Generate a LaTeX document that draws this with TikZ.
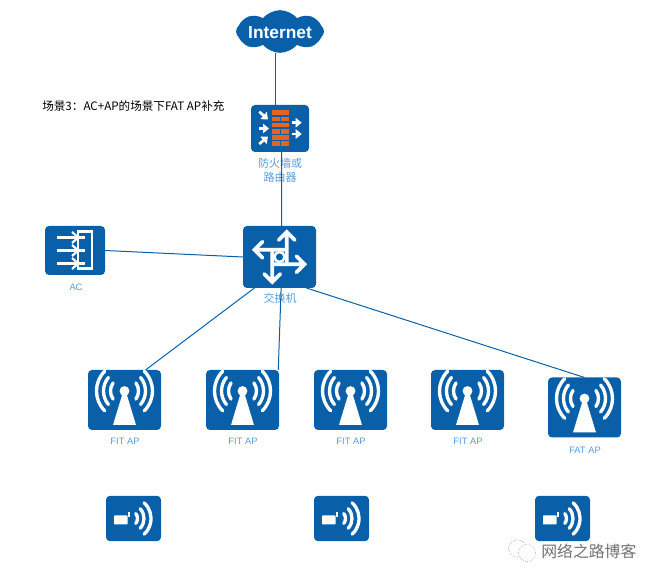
\documentclass[tikz,border=0pt]{standalone}
\usepackage{fontspec}
\setmainfont{Liberation Sans}
\newfontfamily\cjk{Noto Sans CJK SC}
\usetikzlibrary{shapes.symbols,arrows.meta}
\definecolor{boxblue}{HTML}{0A60A8}
\definecolor{labblue}{HTML}{5B9BD5}
\definecolor{brick}{HTML}{E8641E}
\tikzset{
  devbox/.style={fill=boxblue,rounded corners=3pt,inner sep=0pt,outer sep=0pt},
  apbox/.style={devbox,minimum width=54.75pt,minimum height=45pt},
  stabox/.style={devbox,minimum width=41.25pt,minimum height=34pt},
  lab/.style={text=labblue,font=\fontsize{7}{8}\selectfont,inner sep=0pt},
  cjklab/.style={text=labblue,font=\fontsize{8.25}{10.5}\selectfont\cjk,inner sep=0pt,align=center},
  link/.style={draw=boxblue,line width=.75pt},
  iconline/.style={draw=white,line width=2.5pt,line cap=round},
  thinline/.style={draw=white,line width=1.6pt},
  icon/.style={x=.75pt,y=.75pt,shift={(#1)}}
}
\newcommand{\drawap}[1]{
\begin{scope}[icon=#1]
\fill[white] (0,9) circle (4.9);
\fill[white] (-1.5,8) -- (-11.5,-25) -- (11.5,-25) -- (1.5,8) -- cycle;
\foreach \r/\a in {14/35,21/40,28/45}{
  \draw[iconline] (0,9) ++(\a:\r) arc[start angle=\a,end angle=-\a,radius=\r];
  \draw[iconline] (0,9) ++(180-\a:\r) arc[start angle=180-\a,end angle=180+\a,radius=\r];
}
\end{scope}}
\newcommand{\drawsta}[1]{
\begin{scope}[icon=#1]
\fill[white,rounded corners=.5pt] (-19.5,3) rectangle (-6,-6);
\draw[white,line width=.9pt] (-4.5,6) -- (-4.5,1);
\foreach \r/\a in {8/38,14.5/42,21.5/47}{
  \draw[iconline] (-4,0) ++(\a:\r) arc[start angle=\a,end angle=-\a,radius=\r];
}
\end{scope}}

\begin{document}
\begin{tikzpicture}[x=.75pt,y=-.75pt]
\useasboundingbox (0,0) rectangle (657,580);
\node[cloud,cloud puffs=8,cloud puff arc=100,aspect=2.2,fill=boxblue,
  inner sep=0pt,outer sep=0pt,minimum width=66pt,minimum height=32pt] (internet) at (280,31.5) {};
\node[text=white,inner sep=0pt,font=\fontsize{13}{13}\selectfont\bfseries] (inettxt) at (280,33) {Internet};
\node[anchor=west,inner sep=0pt,font=\fontsize{8.7}{10}\selectfont\cjk] (title) at (42,106) {场景3：AC+AP的场景下FAT AP补充};

\node[devbox,minimum width=43.5pt,minimum height=35.25pt] (fw) at (280,128.5) {};
\node[devbox,minimum width=54.75pt,minimum height=46.5pt] (sw) at (279.5,257) {};
\node[devbox,minimum width=45pt,minimum height=36.75pt] (ac) at (75,250.5) {};
\node[apbox] (fit1) at (124.5,400) {};
\node[apbox] (fit2) at (242.5,400) {};
\node[apbox] (fit3) at (350.5,400) {};
\node[apbox] (fit4) at (467.5,400) {};
\node[apbox] (fat) at (584.5,407.5) {};
\node[stabox] (sta1) at (133.5,518.5) {};
\node[stabox] (sta2) at (341.5,518.5) {};
\node[stabox] (sta3) at (562.5,518.5) {};

\node[cjklab] (fwlab) at (280,170) {防火墙或\\路由器};
\node[cjklab] (swlab) at (280,298) {交换机};
\node[lab] (aclab) at (76,287) {AC};
\node[lab] (fit1lab) at (125,441) {FIT AP};
\node[lab] (fit2lab) at (243,441) {FIT AP};
\node[lab] (fit3lab) at (351,441) {FIT AP};
\node[lab] (fit4lab) at (468,441) {FIT AP};
\node[lab] (fatlab) at (585,450) {FAT AP};

\draw[link] (fw.100.8 |- internet.south) -- (fw.100.8);
\draw[link] (fw.-86.8) -- (sw.86.3);
\draw[link] (ac.east) -- (sw.west);
\draw[link] (sw.-129.4) -- (fit1.55.6);
\draw[link] (sw.-87) -- (fit2.40.6);
\draw[link] (sw.-49.5) -- (fat.north);

% firewall
\begin{scope}[icon=fw]
\foreach \t/\b in {18.5/13.5,5.8/1.2,-6.8/-11.5}{
  \fill[brick] (-8.3,\t) rectangle (9,\b);
}
\foreach \t/\b in {11.8/7.5,-.5/-5.5,-13/-18}{
  \fill[brick] (-8.3,\t) rectangle (-.4,\b);
  \fill[brick] (1,\t) rectangle (9,\b);
}
\foreach \sx/\sy/\ex/\ey in {-20.7/16.8/-12/9,-21/0/-11/0,-20.7/-15.5/-12/-8,11.7/5.8/21.7/5.8,11.7/-5.5/21.7/-5.5}{
  \draw[white,line width=2pt,-{Triangle[length=4.5pt,width=7pt]}] (\sx,\sy) -- (\ex,\ey);
}
\end{scope}

% switch
\begin{scope}[icon=sw]
\foreach \a in {0,90,180,270}{
  \draw[iconline,line width=2.8pt,rotate=\a] (-5,-7.3) -- (25,-7.3) (17,-15.3) -- (25,-7.3) -- (17,.7);
}
\filldraw[fill=boxblue,draw=white,line width=1.8pt] (0,0) circle (5);
\end{scope}

% ac
\begin{scope}[icon=ac]
\draw[thinline] (3.3,19) rectangle (17.3,-18);
\foreach \y in {13,0,-13}{
  \draw[thinline] (-18,\y) -- (10,\y);
  \draw[thinline] (-3,\y+5.5) -- (3.3,\y) -- (-3,\y-5.5);
}
\end{scope}

\drawap{fit1}
\drawap{fit2}
\drawap{fit3}
\drawap{fit4}
\drawap{fat}
\drawsta{sta1}
\drawsta{sta2}
\drawsta{sta3}

% watermark
\draw[gray!70,densely dotted,line width=.5pt] (517.5,548.5) ellipse (6.75pt and 6.4pt);
\filldraw[fill=white,draw=gray!70,densely dotted,line width=.5pt] (527,553) ellipse (6.4pt and 6.4pt);
\node[anchor=west,inner sep=0pt,text=gray!90!black,font=\fontsize{11.9}{12}\selectfont\cjk] (mark) at (541,551) {网络之路博客};
\end{tikzpicture}
\end{document}
